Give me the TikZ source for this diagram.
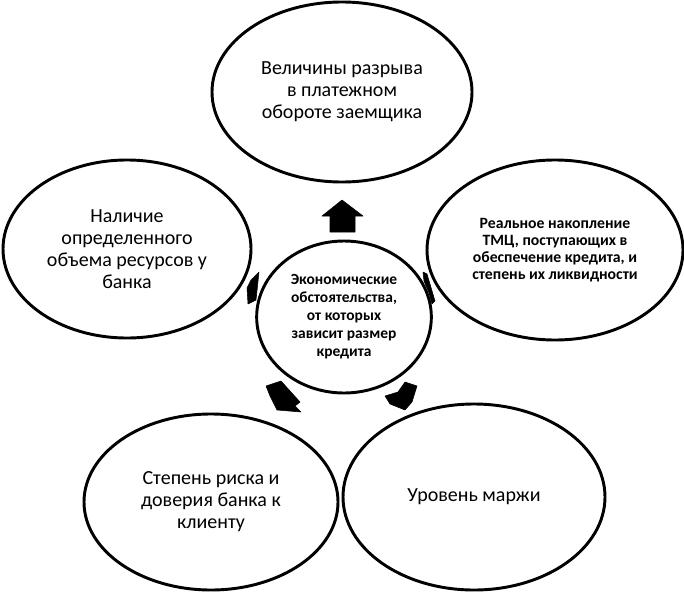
\documentclass[tikz,border=0pt]{standalone}
\usepackage{fontspec}
\setmainfont{Carlito}
\usetikzlibrary{shapes.geometric}

\begin{document}
\begin{tikzpicture}[
  x=0.75pt, y=-0.75pt,
  oval/.style={ellipse, draw=black, line width=2.2pt, fill=white, align=center, inner sep=0pt},
  outer/.style={oval, font=\fontsize{15}{16.5}\selectfont},
  hub/.style={oval, font=\bfseries\fontsize{11.6}{13.5}\selectfont},
  blockarr/.style={fill=black, draw=black, line width=0.4pt, line join=round},
]
\useasboundingbox (0,0) rectangle (684,592);

% ---------- nodes ----------
\node[outer, minimum width=195pt, minimum height=135pt] (gap) at (342,92)
  {Величины разрыва\\в платежном\\обороте заемщика};
\node[outer, minimum width=186pt, minimum height=133.5pt] (res) at (127,249)
  {Наличие\\определенного\\объема ресурсов у\\банка};
\node[oval, minimum width=192pt, minimum height=135pt,
      font=\bfseries\fontsize{11.8}{12.75}\selectfont] (tmc) at (555,250)
  {Реальное накопление\\ТМЦ, поступающих в\\обеспечение кредита, и\\степень их ликвидности};
\node[outer, minimum width=190.5pt, minimum height=132pt] (risk) at (211,502)
  {Степень риска и\\доверия банка к\\клиенту};
\node[outer, minimum width=196.5pt, minimum height=139.5pt] (marg) at (474,497)
  {Уровень маржи};
\node[hub, minimum width=131pt, minimum height=114pt] (econ) at (344,317)
  {Экономические\\обстоятельства,\\от которых\\зависит размер\\кредита};

% ---------- block arrows ----------
\fill[blockarr] (342,200) -- (363,216) -- (355,216) -- (355,232) -- (330,232)
  -- (330,216) -- (322,216) -- cycle;
\fill[blockarr] (259,272) -- (256,300) -- (248,304) -- (247,288) -- (251,280) -- cycle;
\fill[blockarr] (423,272) -- (427,274) -- (435,301) -- (432,304) -- (429,293)
  -- (424,281) -- cycle;
\fill[blockarr] (266,386) -- (281,381) -- (300,402) -- (295,406) -- (301,412)
  -- (277,410) -- (270,396) -- cycle;
\fill[blockarr] (405,382) -- (417,386) -- (412,402) -- (405,410) -- (390,404)
  -- (385,396) -- (398,392) -- cycle;

\end{tikzpicture}
\end{document}
